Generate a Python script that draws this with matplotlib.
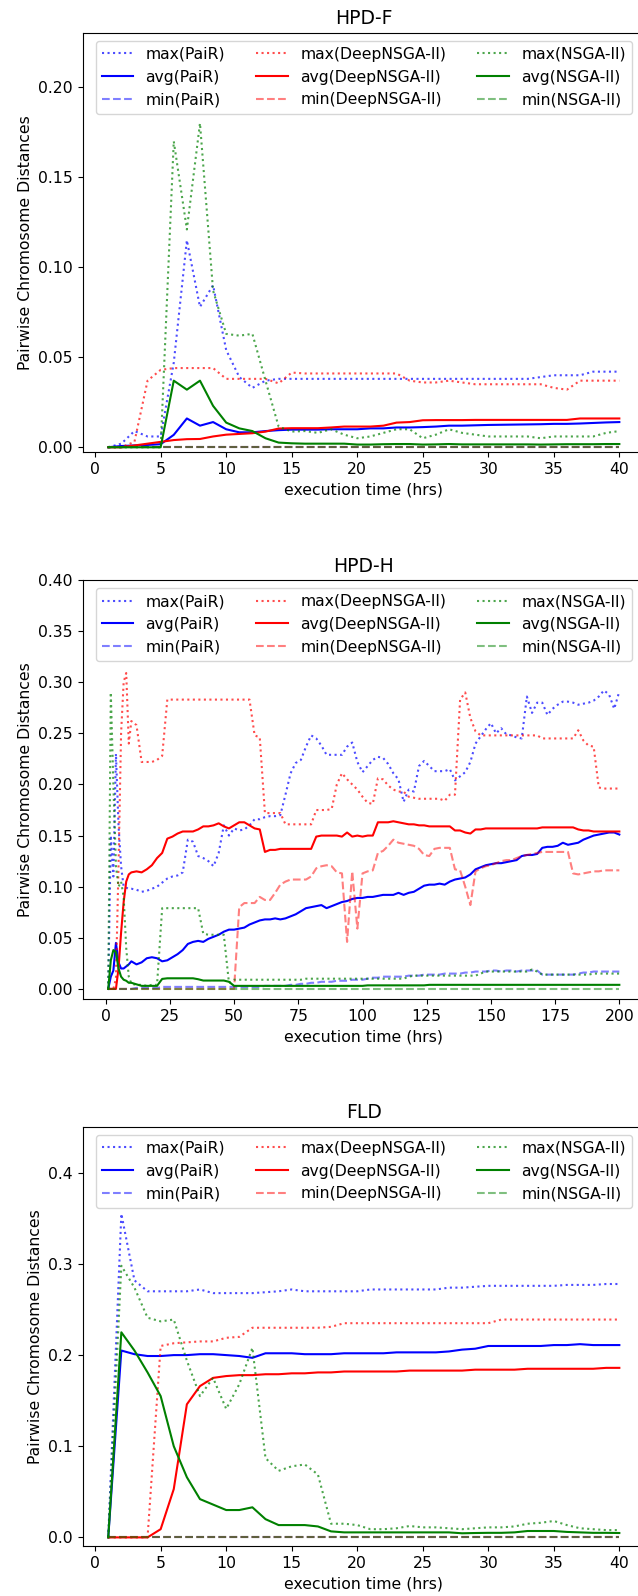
import numpy as np
import matplotlib
matplotlib.use('Agg')
import matplotlib.pyplot as plt

plt.rcParams['font.size'] = 11.25

# ---- HPD-F (hourly, 1..40 hrs)
hours_f = np.arange(1, 41)
pair_max_f = [0.0, 0.002, 0.009, 0.006, 0.006, 0.047, 0.115, 0.078, 0.090, 0.054,
              0.039, 0.033, 0.037, 0.038, 0.038, 0.038, 0.038, 0.038, 0.038, 0.038,
              0.038, 0.038, 0.038, 0.038, 0.038, 0.038, 0.038, 0.038, 0.038, 0.038,
              0.038, 0.038, 0.038, 0.039, 0.040, 0.040, 0.040, 0.042, 0.042, 0.042]
pair_avg_f = [0.0, 0.0007, 0.001, 0.0013, 0.0017, 0.0069, 0.016, 0.012, 0.014, 0.010,
              0.0083, 0.0083, 0.009, 0.0095, 0.0098, 0.0098, 0.0098, 0.010, 0.010, 0.010,
              0.0105, 0.0105, 0.011, 0.011, 0.0112, 0.0115, 0.012, 0.012, 0.0122, 0.0124,
              0.0125, 0.0126, 0.0127, 0.0128, 0.013, 0.013, 0.0132, 0.0135, 0.0138, 0.014]
pair_min_f = [0.0] * 40
deep_max_f = [0.0, 0.0, 0.003, 0.037, 0.043, 0.044, 0.044, 0.044, 0.044, 0.038,
              0.038, 0.038, 0.038, 0.0355, 0.0415, 0.041, 0.041, 0.041, 0.041, 0.041,
              0.041, 0.041, 0.041, 0.037, 0.036, 0.036, 0.037, 0.036, 0.035, 0.035,
              0.035, 0.035, 0.035, 0.035, 0.033, 0.032, 0.037, 0.037, 0.037, 0.037]
deep_avg_f = [0.0, 0.0, 0.001, 0.002, 0.003, 0.004, 0.0045, 0.0046, 0.006, 0.007,
              0.0074, 0.0078, 0.0087, 0.0104, 0.0106, 0.0106, 0.0106, 0.011, 0.0115, 0.0115,
              0.0115, 0.012, 0.0137, 0.014, 0.015, 0.0151, 0.0151, 0.0151, 0.0152, 0.0152,
              0.0152, 0.0152, 0.0152, 0.0152, 0.0152, 0.0152, 0.016, 0.016, 0.016, 0.016]
deep_min_f = [0.0] * 40
nsga_max_f = [0.0, 0.0, 0.0, 0.0, 0.0, 0.170, 0.121, 0.180, 0.087, 0.063,
              0.062, 0.063, 0.037, 0.0115, 0.0087, 0.009, 0.008, 0.010, 0.007, 0.005,
              0.006, 0.008, 0.010, 0.010, 0.005, 0.007, 0.010, 0.008, 0.007, 0.006,
              0.006, 0.006, 0.006, 0.005, 0.006, 0.006, 0.006, 0.006, 0.008, 0.009]
nsga_avg_f = [0.0, 0.0, 0.0, 0.0, 0.0, 0.037, 0.032, 0.037, 0.023, 0.0137,
              0.0105, 0.009, 0.005, 0.0026, 0.0022, 0.002, 0.002, 0.002, 0.002, 0.0015,
              0.0015, 0.0017, 0.0018, 0.0018, 0.0015, 0.0016, 0.0018, 0.0016, 0.0016, 0.0016,
              0.0016, 0.0016, 0.0016, 0.0015, 0.0016, 0.0017, 0.0017, 0.0017, 0.0018, 0.0018]
nsga_min_f = [0.0] * 40

# ---- HPD-H (1..10 hrs, then every 2 hrs up to 200)
hours_h = np.concatenate([np.arange(1, 11), np.arange(12, 201, 2)])
pair_max_h = ([0.0, 0.15, 0.11, 0.23, 0.16, 0.12, 0.10, 0.099, 0.098, 0.098]
              + [0.097, 0.095, 0.096, 0.098, 0.100, 0.104, 0.108, 0.110, 0.111, 0.114,
                 0.146, 0.144, 0.130, 0.128, 0.125, 0.120, 0.133, 0.160, 0.150, 0.157]
              + [0.155, 0.156, 0.160, 0.166, 0.166, 0.168, 0.169, 0.169, 0.170, 0.190,
                 0.211, 0.221, 0.224, 0.237, 0.248, 0.245, 0.238, 0.229, 0.229, 0.229,
                 0.229, 0.237, 0.241, 0.222, 0.212]
              + [0.218, 0.224, 0.227, 0.226, 0.220, 0.211, 0.205, 0.183, 0.195, 0.193,
                 0.218, 0.223, 0.218, 0.213, 0.213, 0.213, 0.215, 0.204, 0.208, 0.212,
                 0.222, 0.240, 0.247, 0.254, 0.260]
              + [0.250, 0.255, 0.249, 0.248, 0.246, 0.245, 0.286, 0.270, 0.280, 0.280,
                 0.268, 0.274, 0.278, 0.281, 0.281, 0.280, 0.278, 0.279, 0.280, 0.282,
                 0.286, 0.292, 0.288, 0.274, 0.291])
pair_avg_h = ([0.0, 0.012, 0.018, 0.045, 0.026, 0.020, 0.020, 0.022, 0.024, 0.027]
              + [0.024, 0.026, 0.030, 0.031, 0.030, 0.027, 0.028, 0.031, 0.034, 0.038,
                 0.044, 0.046, 0.047, 0.046, 0.049, 0.051, 0.053, 0.056, 0.058, 0.058]
              + [0.059, 0.060, 0.063, 0.065, 0.067, 0.068, 0.068, 0.069, 0.068, 0.069,
                 0.071, 0.073, 0.076, 0.079, 0.080, 0.081, 0.082, 0.079, 0.081, 0.083,
                 0.085, 0.086, 0.088, 0.089, 0.089]
              + [0.090, 0.090, 0.091, 0.092, 0.092, 0.092, 0.094, 0.092, 0.094, 0.095,
                 0.098, 0.101, 0.102, 0.102, 0.103, 0.102, 0.105, 0.107, 0.108, 0.109,
                 0.112, 0.117, 0.119, 0.121, 0.122]
              + [0.123, 0.123, 0.124, 0.125, 0.126, 0.130, 0.131, 0.131, 0.132, 0.138,
                 0.139, 0.139, 0.140, 0.143, 0.141, 0.142, 0.143, 0.146, 0.148, 0.150,
                 0.151, 0.152, 0.153, 0.153, 0.151])
pair_min_h = ([0.0] * 10
              + [0.001] * 5 + [0.002] * 15
              + [0.002, 0.002, 0.002, 0.002, 0.002, 0.003, 0.003, 0.003, 0.003, 0.003,
                 0.004, 0.004, 0.005, 0.005, 0.006, 0.006, 0.007, 0.007, 0.007, 0.008,
                 0.008, 0.008, 0.009, 0.009, 0.009]
              + [0.010, 0.011, 0.011, 0.012, 0.012, 0.012, 0.012, 0.012, 0.013, 0.013,
                 0.013, 0.014, 0.014, 0.014, 0.014, 0.015, 0.015, 0.015, 0.015, 0.016,
                 0.016, 0.017, 0.017, 0.017, 0.018]
              + [0.018, 0.017, 0.018, 0.018, 0.017, 0.018, 0.018, 0.018, 0.018, 0.014,
                 0.014, 0.014, 0.014, 0.014, 0.014, 0.014, 0.015, 0.016, 0.016, 0.017,
                 0.017, 0.017, 0.017, 0.017, 0.017])
deep_max_h = ([0.0, 0.0, 0.0, 0.01, 0.12, 0.25, 0.30, 0.309, 0.24, 0.262]
              + [0.258, 0.222, 0.222, 0.222, 0.224, 0.228, 0.283] + [0.283] * 13
              + [0.283, 0.283, 0.283, 0.248, 0.246, 0.172, 0.172, 0.172, 0.172, 0.161,
                 0.161, 0.161, 0.161, 0.161, 0.161, 0.175, 0.175, 0.175, 0.176, 0.200,
                 0.211, 0.205, 0.200, 0.195, 0.188]
              + [0.182, 0.181, 0.206, 0.205, 0.199, 0.195, 0.193, 0.193, 0.188, 0.187,
                 0.186, 0.186, 0.186, 0.186, 0.186, 0.184, 0.190, 0.190, 0.283, 0.290,
                 0.265, 0.252, 0.248, 0.248, 0.248]
              + [0.248] * 9 + [0.245] * 7
              + [0.253, 0.243, 0.238, 0.237, 0.197, 0.196, 0.196, 0.196, 0.196])
deep_avg_h = ([0.0, 0.0, 0.0, 0.0, 0.02, 0.055, 0.085, 0.105, 0.112, 0.114]
              + [0.115, 0.114, 0.117, 0.121, 0.128, 0.133, 0.147, 0.149, 0.152, 0.154,
                 0.154, 0.154, 0.156, 0.159, 0.159, 0.160, 0.162, 0.159, 0.157, 0.160]
              + [0.163, 0.163, 0.160, 0.157, 0.156, 0.134, 0.136, 0.136, 0.137, 0.137,
                 0.137, 0.137, 0.137, 0.137, 0.137, 0.149, 0.150, 0.150, 0.150, 0.150,
                 0.149, 0.153, 0.149, 0.150, 0.149]
              + [0.150, 0.150, 0.163, 0.163, 0.163, 0.164, 0.163, 0.162, 0.161, 0.161,
                 0.160, 0.160, 0.159, 0.159, 0.159, 0.159, 0.159, 0.155, 0.155, 0.153,
                 0.152, 0.156, 0.156, 0.157, 0.157]
              + [0.157] * 9 + [0.158] * 7
              + [0.156, 0.155, 0.155, 0.154, 0.154, 0.154, 0.154, 0.154, 0.154])
deep_min_h = ([0.0] * 10 + [0.0] * 20
              + [0.080, 0.084, 0.084, 0.084, 0.090, 0.087, 0.087, 0.094, 0.102, 0.105,
                 0.107, 0.107, 0.107, 0.107, 0.110, 0.118, 0.120, 0.121, 0.120, 0.114,
                 0.113, 0.046, 0.115, 0.059, 0.113]
              + [0.115, 0.116, 0.133, 0.135, 0.140, 0.146, 0.143, 0.142, 0.141, 0.140,
                 0.137, 0.131, 0.130, 0.137, 0.138, 0.138, 0.138, 0.117, 0.116, 0.100,
                 0.082, 0.115, 0.118, 0.120, 0.121]
              + [0.123, 0.125, 0.126, 0.126, 0.128, 0.130, 0.131, 0.132, 0.133, 0.134,
                 0.134, 0.134, 0.134, 0.134, 0.134, 0.113, 0.112, 0.113, 0.114, 0.115,
                 0.115, 0.116, 0.116, 0.116, 0.116])
nsga_max_h = ([0.0, 0.29, 0.20, 0.12, 0.10, 0.105, 0.09, 0.04, 0.012, 0.005]
              + [0.004, 0.004, 0.003, 0.004, 0.004, 0.079] + [0.079] * 7
              + [0.054, 0.053, 0.053, 0.053, 0.053, 0.006, 0.009]
              + [0.009] * 13 + [0.010] * 12
              + [0.010] * 8 + [0.012] + [0.013] * 13 + [0.015, 0.017, 0.017]
              + [0.017] * 7 + [0.019, 0.017] + [0.014] * 10 + [0.015] * 6)
nsga_avg_h = ([0.0, 0.028, 0.038, 0.036, 0.020, 0.012, 0.009, 0.008, 0.006, 0.006]
              + [0.0045, 0.003, 0.003, 0.003, 0.003, 0.0098] + [0.0104] * 6
              + [0.0095, 0.0082, 0.0082, 0.0082, 0.0082, 0.0082, 0.007, 0.003]
              + [0.003] * 25
              + [0.0035] * 12 + [0.004] * 13
              + [0.004] * 25)
nsga_min_h = [0.0] * 105

# ---- FLD (hourly, 1..40 hrs)
hours_l = np.arange(1, 41)
pair_max_l = [0.0, 0.355, 0.282, 0.270, 0.270, 0.270, 0.270, 0.272, 0.268, 0.268,
              0.268, 0.268, 0.269, 0.270, 0.272, 0.270, 0.270, 0.270, 0.270, 0.270,
              0.272, 0.272, 0.272, 0.272, 0.272, 0.272, 0.274, 0.274, 0.275, 0.276,
              0.276, 0.276, 0.276, 0.276, 0.276, 0.277, 0.277, 0.277, 0.278, 0.278]
pair_avg_l = [0.0, 0.205, 0.201, 0.199, 0.199, 0.200, 0.200, 0.201, 0.201, 0.200,
              0.199, 0.197, 0.202, 0.202, 0.202, 0.201, 0.201, 0.201, 0.202, 0.202,
              0.202, 0.202, 0.203, 0.203, 0.203, 0.203, 0.204, 0.206, 0.207, 0.210,
              0.210, 0.210, 0.210, 0.210, 0.211, 0.211, 0.212, 0.211, 0.211, 0.211]
pair_min_l = [0.0] * 40
deep_max_l = [0.0, 0.0, 0.0, 0.0, 0.210, 0.213, 0.214, 0.215, 0.215, 0.219,
              0.220, 0.230, 0.230, 0.230, 0.230, 0.230, 0.230, 0.231, 0.235, 0.235,
              0.235, 0.235, 0.235, 0.235, 0.235, 0.235, 0.235, 0.235, 0.235, 0.235,
              0.239, 0.239, 0.239, 0.239, 0.239, 0.239, 0.239, 0.239, 0.239, 0.239]
deep_avg_l = [0.0, 0.0, 0.0, 0.0, 0.009, 0.053, 0.146, 0.166, 0.175, 0.177,
              0.178, 0.178, 0.179, 0.179, 0.180, 0.180, 0.181, 0.181, 0.182, 0.182,
              0.182, 0.182, 0.182, 0.183, 0.183, 0.183, 0.183, 0.183, 0.184, 0.184,
              0.184, 0.184, 0.185, 0.185, 0.185, 0.185, 0.185, 0.185, 0.186, 0.186]
deep_min_l = [0.0] * 40
nsga_max_l = [0.0, 0.298, 0.274, 0.241, 0.237, 0.239, 0.194, 0.155, 0.175, 0.141,
              0.168, 0.208, 0.087, 0.073, 0.078, 0.080, 0.069, 0.015, 0.015, 0.0135,
              0.009, 0.009, 0.010, 0.0125, 0.011, 0.011, 0.010, 0.009, 0.010, 0.011,
              0.011, 0.012, 0.015, 0.016, 0.018, 0.0135, 0.010, 0.009, 0.008, 0.008]
nsga_avg_l = [0.0, 0.225, 0.205, 0.181, 0.155, 0.100, 0.066, 0.042, 0.036, 0.030,
              0.030, 0.033, 0.020, 0.0135, 0.0135, 0.0135, 0.012, 0.0066, 0.0055, 0.0055,
              0.0055, 0.0055, 0.0055, 0.0055, 0.0055, 0.0055, 0.0055, 0.0045, 0.0048, 0.005,
              0.005, 0.0055, 0.007, 0.007, 0.007, 0.006, 0.0055, 0.005, 0.005, 0.0048]
nsga_min_l = [0.0] * 40

algos = ['PaiR', 'DeepNSGA-II', 'NSGA-II']
colors = ['blue', 'red', 'green']

panels = [
    ('HPD-F', hours_f, [(pair_max_f, pair_avg_f, pair_min_f),
                        (deep_max_f, deep_avg_f, deep_min_f),
                        (nsga_max_f, nsga_avg_f, nsga_min_f)], (-0.0028, 0.2303)),
    ('HPD-H', hours_h, [(pair_max_h, pair_avg_h, pair_min_h),
                        (deep_max_h, deep_avg_h, deep_min_h),
                        (nsga_max_h, nsga_avg_h, nsga_min_h)], (-0.0101, 0.40)),
    ('FLD', hours_l, [(pair_max_l, pair_avg_l, pair_min_l),
                      (deep_max_l, deep_avg_l, deep_min_l),
                      (nsga_max_l, nsga_avg_l, nsga_min_l)], (-0.0095, 0.4505)),
]

# axes boxes in figure fractions (right edge runs past the image, as in the original)
boxes = [[0.1296, 0.7166, 0.8812, 0.2629],
         [0.1296, 0.3739, 0.8812, 0.2627],
         [0.1296, 0.0313, 0.8812, 0.2627]]

fig = plt.figure(figsize=(6.38, 15.96), dpi=100)
for (title, x, series, ylim), box in zip(panels, boxes):
    ax = fig.add_axes(box)
    for name, col, (mx, av, mn) in zip(algos, colors, series):
        ax.plot(x, mx, ':', color=col, alpha=0.7, label='max(' + name + ')')
        ax.plot(x, av, '-', color=col, label='avg(' + name + ')')
        ax.plot(x, mn, '--', color=col, alpha=0.5, label='min(' + name + ')')
    ax.set_ylim(ylim)
    ax.set_title(title)
    ax.set_xlabel('execution time (hrs)')
    ax.set_ylabel('Pairwise Chromosome Distances')
    ax.legend(loc='upper center', ncol=3)

plt.savefig('out.png', dpi=100)
